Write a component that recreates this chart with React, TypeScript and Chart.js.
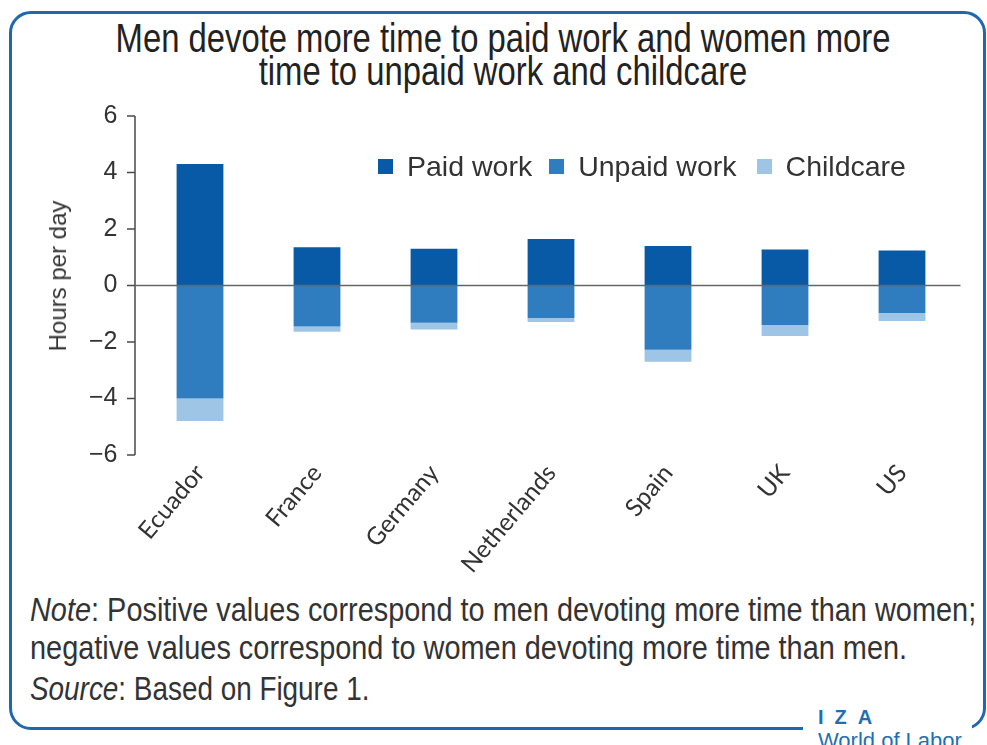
import React, { useEffect, useRef } from 'react';
import { Chart, registerables } from 'chart.js';

Chart.register(...registerables);

const categories = ['Ecuador', 'France', 'Germany', 'Netherlands', 'Spain', 'UK', 'US'];
const paidWork = [4.3, 1.35, 1.3, 1.65, 1.4, 1.27, 1.24];
const unpaidWork = [-4.0, -1.45, -1.32, -1.15, -2.27, -1.4, -0.97];
const childcare = [-0.8, -0.19, -0.24, -0.14, -0.43, -0.39, -0.29];
const yTickValues = [6, 4, 2, 0, -2, -4, -6];
const seriesNames = ['Paid work', 'Unpaid work', 'Childcare'];
const seriesColors = ['#085aa6', '#2f7cbf', '#9ec4e6'];
const yAxisTitle = 'Hours per day';

const SANS = '"Liberation Sans", Arial, sans-serif';

const axisPlugin = {
  id: 'customAxis',
  afterDatasetsDraw(chart: any) {
    const { ctx, chartArea, scales } = chart;
    const y = scales.y;
    const axisX = chartArea.left - 6.5;
    const tickStart = chartArea.left - 14.5;
    ctx.save();
    ctx.strokeStyle = '#4a4a4a';
    ctx.lineWidth = 1.5;
    ctx.beginPath();
    ctx.moveTo(axisX, y.getPixelForValue(y.max));
    ctx.lineTo(axisX, y.getPixelForValue(y.min));
    y.ticks.forEach((t: any) => {
      const py = y.getPixelForValue(t.value);
      ctx.moveTo(tickStart, py);
      ctx.lineTo(axisX, py);
    });
    ctx.stroke();
    ctx.beginPath();
    ctx.strokeStyle = '#666';
    const z = y.getPixelForValue(0);
    ctx.moveTo(axisX, z);
    ctx.lineTo(chartArea.right, z);
    ctx.stroke();
    ctx.restore();
  },
};

export default function App() {
  const canvasRef = useRef<HTMLCanvasElement | null>(null);

  useEffect(() => {
    if (!canvasRef.current) return;
    const data = [paidWork, unpaidWork, childcare];
    const chart = new Chart(canvasRef.current, {
      type: 'bar',
      data: {
        labels: categories,
        datasets: seriesNames.map((name, i) => ({
          label: name,
          data: data[i],
          backgroundColor: seriesColors[i],
          borderWidth: 0,
          categoryPercentage: 1,
          barPercentage: 0.4,
        })),
      },
      options: {
        animation: false,
        responsive: true,
        maintainAspectRatio: false,
        layout: { padding: { top: 16, left: 0, right: 26.5, bottom: 0 } },
        plugins: {
          legend: { display: false },
          tooltip: { enabled: false },
          title: { display: false },
        },
        scales: {
          x: {
            stacked: true,
            grid: { display: false, drawTicks: false },
            border: { display: false },
            ticks: {
              color: '#333',
              font: { family: 'Lato, "Open Sans", sans-serif', size: 24.5 },
              minRotation: 50,
              maxRotation: 50,
              padding: 4,
              autoSkip: false,
            },
            afterFit: (scale: any) => {
              scale.height = 135;
              scale.paddingTop = 0;
              scale.paddingBottom = 0;
            },
          },
          y: {
            stacked: true,
            min: -6,
            max: 6,
            grid: { display: false, drawTicks: false },
            border: { display: false },
            afterBuildTicks: (scale: any) => {
              scale.ticks = yTickValues.map((v) => ({ value: v }));
            },
            ticks: {
              color: '#333',
              font: { family: SANS, size: 25 },
              padding: 24,
              callback: (v: any) => (Number(v) < 0 ? '\u2212' + Math.abs(Number(v)) : String(v)),
            },
            afterFit: (scale: any) => {
              scale.width = 141.5;
              scale.paddingTop = 0;
              scale.paddingBottom = 0;
            },
          },
        },
      },
      plugins: [axisPlugin],
    });
    return () => chart.destroy();
  }, []);

  const legendItem = (i: number, marginLeft: number) => (
    <div key={i} style={{ display: 'flex', alignItems: 'center', marginLeft }}>
      <div style={{ width: 15, height: 15, background: seriesColors[i], marginRight: 14 }} />
      <span>{seriesNames[i]}</span>
    </div>
  );

  const narrowLine = (content: React.ReactNode, origin: string, sx: number) => (
    <div style={{ transform: `scaleX(${sx})`, transformOrigin: origin, whiteSpace: 'nowrap' }}>{content}</div>
  );

  return (
    <div
      style={{
        position: 'absolute',
        left: 0,
        top: 0,
        width: 987,
        height: 745,
        overflow: 'hidden',
        background: '#fff',
      }}
    >
      <div
        style={{
          position: 'absolute',
          left: 9,
          top: 11,
          width: 977,
          height: 719,
          boxSizing: 'border-box',
          border: '3px solid #2068ad',
          borderRadius: 22,
        }}
      />
      <div
        style={{
          position: 'absolute',
          left: 0,
          top: 22,
          width: 1006,
          textAlign: 'center',
          fontFamily: SANS,
          fontSize: 40,
          lineHeight: '33px',
          color: '#222',
        }}
      >
        {narrowLine('Men devote more time to paid work and women more', 'center', 0.82)}
        {narrowLine('time to unpaid work and childcare', 'center', 0.82)}
      </div>
      <div style={{ position: 'absolute', left: 0, top: 100, width: 987, height: 490 }}>
        <canvas ref={canvasRef} />
      </div>
      <div
        style={{
          position: 'absolute',
          left: 58,
          top: 276,
          transform: 'translate(-50%, -50%) rotate(-90deg)',
          fontFamily: SANS,
          fontSize: 24,
          lineHeight: '28px',
          color: '#333',
          whiteSpace: 'nowrap',
        }}
      >
        {yAxisTitle}
      </div>
      <div
        style={{
          position: 'absolute',
          left: 378,
          top: 149,
          display: 'flex',
          fontFamily: SANS,
          fontSize: 28.5,
          lineHeight: '34px',
          color: '#333',
          whiteSpace: 'nowrap',
        }}
      >
        {legendItem(0, 0)}
        {legendItem(1, 17)}
        {legendItem(2, 20)}
      </div>
      <div
        style={{
          position: 'absolute',
          left: 30,
          top: 590,
          width: 1200,
          fontFamily: SANS,
          fontSize: 34,
          lineHeight: '38px',
          color: '#333',
        }}
      >
        {narrowLine(
          <>
            <i>Note</i>: Positive values correspond to men devoting more time than women;
          </>,
          'left top',
          0.85
        )}
        {narrowLine('negative values correspond to women devoting more time than men.', 'left top', 0.85)}
        <div style={{ marginTop: 3 }}>
          {narrowLine(
            <>
              <i>Source</i>: Based on Figure 1.
            </>,
            'left top',
            0.82
          )}
        </div>
      </div>
      <div
        style={{
          position: 'absolute',
          left: 803,
          top: 700,
          width: 169,
          height: 45,
          background: '#fff',
          color: '#1f6fb5',
          fontFamily: SANS,
        }}
      >
        <div
          style={{
            position: 'absolute',
            left: 15,
            top: 7,
            fontSize: 20,
            lineHeight: 1,
            fontWeight: 700,
            letterSpacing: 11,
            whiteSpace: 'nowrap',
          }}
        >
          IZA
        </div>
        <div style={{ position: 'absolute', left: 15, top: 30, fontSize: 22, lineHeight: 1, whiteSpace: 'nowrap' }}>
          World of Labor
        </div>
      </div>
    </div>
  );
}
